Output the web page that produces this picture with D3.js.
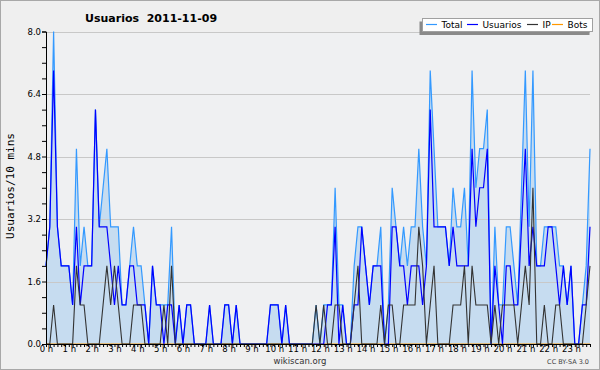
<!DOCTYPE html>
<html><head><meta charset="utf-8">
<script src="https://cdn.jsdelivr.net/npm/d3@7"></script>
<style>
html,body{margin:0;padding:0;background:#efefef;}
svg{display:block;}
text{font-family:"DejaVu Sans",sans-serif;}
</style></head>
<body>
<svg id="c" width="600" height="370"></svg>
<script>
// ---- data (10-minute slots, 144 per day) ----
const hourLabels = ["0 h","1 h","2 h","3 h","4 h","5 h","6 h","7 h","8 h","9 h","10 h","11 h","12 h","13 h","14 h","15 h","16 h","17 h","18 h","19 h","20 h","21 h","22 h","23 h"];
const yTickLabels = ["0.0","1.6","3.2","4.8","6.4","8.0"];
const seriesNames = ["Total","Usuarios","IP","Bots"];
const seriesColors = ["#3399ff","#0000ff","#333333","#ff9900"];

const total = [
 2,3,8,3,2,2,2,1,5,2, 3,2,2,6,3,4,5,3,3,3,
 1,1,2,3,2,2,1,0,2,1, 1,1,1,3,0,1,0,1,1,0,
 0,0,0,1,0,0,0,1,1,0, 1,0,0,0,0,0,0,0,0,1,
 1,1,0,1,0,0,0,0,0,0, 0,1,0,1,1,1,4,1,1,0,
 0,2,3,3,2,1,2,2,3,0, 1,4,3,2,3,2,3,3,5,3,
 2,7,5,3,3,3,2,4,3,3, 4,2,7,4,5,5,6,0,3,1,
 1,3,3,2,1,4,7,3,7,2, 2,3,3,3,3,2,2,1,2,0,
 0,1,2,5];
const usuarios = [
 2,3,7,3,2,2,2,1,3,1, 2,2,2,6,3,3,3,2,1,2,
 1,1,2,2,1,1,1,0,2,1, 1,0,1,1,0,1,0,1,1,0,
 0,0,0,1,0,0,0,1,1,0, 1,0,0,0,0,0,0,0,0,1,
 1,1,0,1,0,0,0,0,0,0, 0,0,0,0,1,1,3,0,1,0,
 0,1,1,3,2,1,2,2,2,0, 0,3,3,2,2,1,2,2,2,1,
 2,6,3,3,3,3,2,3,2,2, 2,2,5,3,4,4,5,0,2,1,
 0,2,2,1,1,3,5,2,3,2, 2,2,3,3,2,1,2,1,2,0,
 0,1,1,3];
const ip = [
 0,0,1,0,0,0,0,0,2,1, 1,0,0,0,0,1,2,1,2,1,
 0,0,0,1,1,1,0,0,0,0, 0,1,0,2,0,0,0,0,0,0,
 0,0,0,0,0,0,0,0,0,0, 0,0,0,0,0,0,0,0,0,0,
 0,0,0,0,0,0,0,0,0,0, 0,1,0,1,0,0,1,1,0,0,
 0,1,2,0,0,0,0,0,1,0, 1,1,0,0,1,1,1,1,3,2,
 0,1,2,0,0,0,0,1,1,1, 2,0,2,1,1,1,1,0,1,0,
 1,1,1,1,0,1,2,1,4,0, 0,1,0,0,1,1,0,0,0,0,
 0,0,1,2];
const bots = [
 0,0,0,0,0,0,0,0,0,0, 0,0,0,0,0,0,0,0,0,0,
 0,0,0,0,0,0,0,0,0,0, 0,0,0,0,0,0,0,0,0,0,
 0,0,0,0,0,0,0,0,0,0, 0,0,0,0,0,0,0,0,0,0,
 0,0,0,0,0,0,0,0,0,0, 0,0,0,0,0,0,0,0,0,0,
 0,0,0,0,0,0,0,0,0,0, 0,0,0,0,0,0,0,0,0,0,
 0,0,0,0,0,0,0,0,0,0, 0,0,0,0,0,0,0,0,0,0,
 0,0,0,0,0,0,0,0,0,0, 0,0,0,0,0,0,0,0,0,0,
 0,0,0,0];

// ---- layout ----
const svg = d3.select("#c");
const L = 46, R = 590, T = 31.5, B = 344;
const x = d3.scaleLinear().domain([0, total.length - 1]).range([L, R]);
const y = d3.scaleLinear().domain([0, 8]).range([B, T]);

svg.append("rect").attr("x",0.5).attr("y",0.5).attr("width",599).attr("height",369)
  .attr("fill","#efefef").attr("stroke","#a8a8a8");
svg.append("rect").attr("x",L).attr("y",T).attr("width",R-L).attr("height",B-T).attr("fill","#eff0f2");

// area under Total
svg.append("path").datum(total)
  .attr("d", d3.area().x((d,i)=>x(i)).y0(y(0)).y1(d=>y(d)))
  .attr("fill","#c6dcf0");

// grid lines
const gridVals = yTickLabels.map(Number).filter(v=>v>0);
svg.append("g").selectAll("line").data(gridVals).join("line")
  .attr("x1",L).attr("x2",R).attr("y1",d=>Math.round(y(d))+0.5).attr("y2",d=>Math.round(y(d))+0.5)
  .attr("stroke","#c8c8c8").attr("stroke-width",1);

// bots first so axis covers it
const line = d3.line().x((d,i)=>x(i)).y(d=>y(d));
[[bots,3,1],[total,0,1.2],[usuarios,1,1.2],[ip,2,1.1]].forEach(([arr,ci,w])=>{
  svg.append("path").datum(arr).attr("d",line).attr("fill","none")
    .attr("stroke",seriesColors[ci]).attr("stroke-width",w).attr("stroke-linejoin","miter");
});

// y axis
const yAxis = d3.axisLeft(y).tickValues(d3.range(0, 8.01, 0.4)).tickSize(4)
  .tickFormat(d => { const s = d.toFixed(1); return yTickLabels.includes(s) && Math.abs(d/1.6 - Math.round(d/1.6))<1e-6 ? s : ""; });
const gy = svg.append("g").attr("transform",`translate(${L},0)`).call(yAxis);
gy.select(".domain").attr("stroke","#000");
gy.selectAll("line").attr("stroke","#000");
gy.selectAll("text").attr("font-size",8.5).attr("fill","#000").attr("x",-5)
  .style("font-family","'DejaVu Sans',sans-serif");

// x axis
const xAxis = d3.axisBottom(x).tickValues(d3.range(0,144)).tickSize(3)
  .tickFormat(i => i % 6 === 0 ? hourLabels[i/6] : "");
const gx = svg.append("g").attr("transform",`translate(0,${B})`).call(xAxis);
gx.select(".domain").attr("stroke","#000").attr("d",`M${L},0.5H${R+1}`);
gx.selectAll("line").attr("stroke","#000");
gx.selectAll("text").attr("font-size",8.5).attr("fill","#000").attr("dy","0.6em").attr("y",3)
  .style("font-family","'DejaVu Sans',sans-serif");

// title
svg.append("text").attr("x",85).attr("y",22).attr("font-size",11).attr("font-weight","bold")
  .style("white-space","pre").attr("fill","#000").text("Usuarios  2011-11-09");

// y title
svg.append("text").attr("transform","translate(14,186) rotate(-90)").attr("text-anchor","middle")
  .attr("font-size",11).style("font-family","'DejaVu Sans Mono',monospace").attr("fill","#000")
  .text("Usuarios/10 mins");

// legend
svg.append("rect").attr("x",419.5).attr("y",21.5).attr("width",170).attr("height",13.5).attr("fill","#8a8a8a");
svg.append("rect").attr("x",422.5).attr("y",18.5).attr("width",170).attr("height",13).attr("fill","#ffffff").attr("stroke","#a0a0a0");
const legX = [426, 467, 527, 552];
seriesNames.forEach((n,k)=>{
  svg.append("line").attr("x1",legX[k]).attr("x2",legX[k]+11).attr("y1",24.5).attr("y2",24.5)
    .attr("stroke",seriesColors[k]).attr("stroke-width",1.2);
  svg.append("text").attr("x",legX[k]+15.5).attr("y",28).attr("font-size",9).attr("fill","#000").text(n);
});

// footer
svg.append("text").attr("x",300).attr("y",364).attr("text-anchor","middle").attr("font-size",8.5).attr("fill","#333").text("wikiscan.org");
svg.append("text").attr("x",589).attr("y",364).attr("text-anchor","end").attr("font-size",6.5).attr("fill","#444").text("CC BY-SA 3.0");
</script>
</body></html>
